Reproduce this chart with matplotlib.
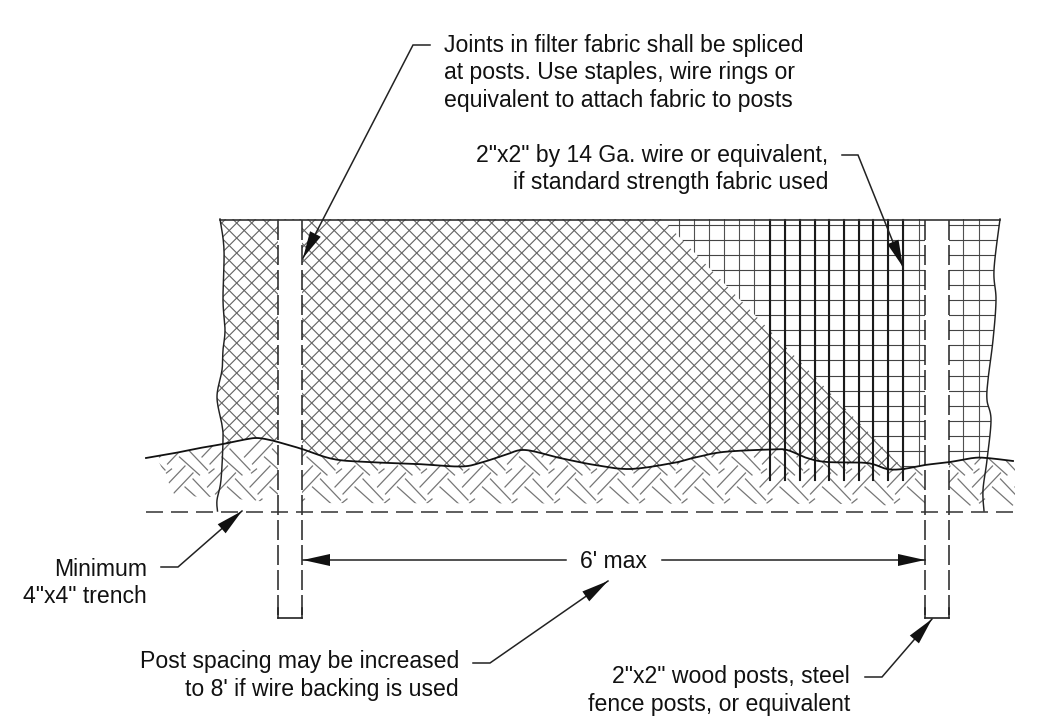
import matplotlib

matplotlib.use('Agg')
import matplotlib.pyplot as plt
import numpy as np
from matplotlib.patches import Polygon, Rectangle

plt.rcParams['font.family'] = ['Liberation Sans', 'DejaVu Sans']
plt.rcParams['lines.scale_dashes'] = False

PX = 0.72  # one pixel in points at dpi 100

ground_x = [146, 175, 200, 223, 245, 257, 270, 285, 302, 333, 367, 417, 460, 480, 505, 525, 560, 595, 630,
            673, 693, 723, 770, 787, 807, 827, 867, 887, 903, 925, 950, 973, 987, 1013]
ground_y = [458, 453, 448, 444, 439.5, 438, 440, 444, 449, 459, 462, 464, 466.5, 463, 455, 450, 458, 465,
            469, 463, 458, 452, 449.5, 450, 458, 462, 463, 469, 469, 465, 462, 458, 458, 461]
left_edge_x = [220, 224, 223, 225, 223, 222, 217, 222, 223, 221, 217, 217.5]
left_edge_y = [219, 250, 300, 330, 350, 370, 397, 425, 440, 480, 500, 511]
right_edge_x = [1000, 994, 996, 993, 988, 987, 991, 987, 983, 984]
right_edge_y = [219, 270, 300, 340, 380, 400, 420, 460, 490, 511]

top_y = 219.5
post_lefts = [278, 925]
post_width = 24
post_bottom = 618
trench_y = 511.5
fabric_split = [(662, 219), (903, 468)]

thin_wires = [679, 694, 709, 724, 739, 754, 919, 963, 979]
thick_wires = [770, 785, 800, 815, 829, 844, 859, 873, 888, 903]
thick_wire_bottom = 480
wire_rows = np.arange(225, 470, 15.05)
mesh_step = 15
mesh_c1 = 193.7
mesh_c2 = 639.7

labels = [
    ('Joints in filter fabric shall be spliced', 444, 52, 'left'),
    ('at posts. Use staples, wire rings or', 444, 79.5, 'left'),
    ('equivalent to attach fabric to posts', 444, 107, 'left'),
    ('2"x2" by 14 Ga. wire or equivalent,', 828, 162, 'right'),
    ('if standard strength fabric used', 828, 189.5, 'right'),
    ('Minimum', 147, 575.5, 'right'),
    ('4"x4" trench', 147, 603, 'right'),
    ("6' max", 613, 568, 'center'),
    ('Post spacing may be increased', 459, 668, 'right'),
    ("to 8' if wire backing is used", 459, 696, 'right'),
    ('2"x2" wood posts, steel', 850, 683, 'right'),
    ('fence posts, or equivalent', 850, 711, 'right'),
]
leaders = [
    [(430, 45), (413, 45), (303, 258)],
    [(842, 155), (858, 155), (903, 267)],
    [(161, 567), (178, 567), (242, 511)],
    [(473, 663), (490, 663), (608, 581)],
    [(865, 677), (882, 677), (932, 619)],
    [(566, 560), (303, 560)],
    [(662, 560), (925, 560)],
]

# herringbone strokes relative to a repeat anchor
soil_period = 42.5
soil_anchor = (335, 487)
soil_row_shift = (-5.5, -30)
soil_strokes = [((0, 0), (20, -21)), ((8, 7), (28, -14)), ((20, 0), (40, 18)), ((28, -8), (48, 13)), ((7, 16), (12, 12))]


def smooth(xs, ys, n=12):
    # catmull-rom through the points
    p = np.column_stack([xs, ys]).astype(float)
    p = np.vstack([p[0], p, p[-1]])
    out = []
    for i in range(1, len(p) - 2):
        for t in np.linspace(0, 1, n, endpoint=False):
            out.append(0.5 * (2 * p[i] + (p[i + 1] - p[i - 1]) * t
                              + (2 * p[i - 1] - 5 * p[i] + 4 * p[i + 1] - p[i + 2]) * t ** 2
                              + (3 * p[i] - p[i - 1] - 3 * p[i + 1] + p[i + 2]) * t ** 3))
    out.append(p[-1])
    return np.array(out)


def arrow_head(ax, tail, tip, length=27, half=6):
    tail, tip = np.array(tail, float), np.array(tip, float)
    d = (tip - tail) / np.hypot(*(tip - tail))
    n = np.array([-d[1], d[0]])
    base = tip - d * length
    ax.fill(*zip(tip, base + n * half, base - n * half), color='#111111', lw=0, zorder=8)


fig = plt.figure(figsize=(10.39, 7.16), dpi=100)
ax = fig.add_axes([0, 0, 1, 1])
ax.set_xlim(0, 1039)
ax.set_ylim(716, 0)
ax.axis('off')

ground = smooth(ground_x, ground_y)
left_edge = smooth(left_edge_x, left_edge_y)
right_edge = smooth(right_edge_x, right_edge_y)
ground_in = ground[(ground[:, 0] > 222) & (ground[:, 0] < 989)]

# clip regions
above_split = ground_in[ground_in[:, 0] <= fabric_split[1][0]]
below_split = ground_in[ground_in[:, 0] > fabric_split[1][0]]
hatch_clip = Polygon(np.vstack([left_edge[left_edge[:, 1] < 445], above_split,
                                [fabric_split[1], fabric_split[0]]]), transform=ax.transData)
grid_clip = Polygon(np.vstack([[fabric_split[0]], right_edge[right_edge[:, 1] < 458], below_split[::-1],
                               [fabric_split[1]]]), transform=ax.transData)
soil_clip = Polygon(np.vstack([ground[ground[:, 0] > 155],
                               [(1015, 462), (1015, 510), (900, 510), (880, 504), (280, 503), (215, 497),
                                (175, 496)]]), transform=ax.transData)

# diamond mesh
for k in range(-40, 60):
    c1 = mesh_c1 + k * mesh_step
    c2 = mesh_c2 + k * mesh_step
    for xs, ys in [([0, 1039], [-c1, 1039 - c1]), ([0, 1039], [c2, c2 - 1039])]:
        ln, = ax.plot(xs, ys, color='#626262', lw=0.8, zorder=2)
        ln.set_clip_path(hatch_clip)

# square wire grid
for x in thin_wires + thick_wires:
    ln, = ax.plot([x, x], [210, 480], color='#505050', lw=0.8, zorder=2)
    ln.set_clip_path(grid_clip)
for y in wire_rows:
    ln, = ax.plot([600, 1010], [y, y], color='#444444', lw=0.8, zorder=2)
    ln.set_clip_path(grid_clip)

# soil herringbone
for r in (-1, 0):
    for c in range(-6, 18):
        cx = soil_anchor[0] + c * soil_period - r * soil_row_shift[0]
        cy = soil_anchor[1] - r * soil_row_shift[1]
        for a, b in soil_strokes:
            ln, = ax.plot([cx + a[0], cx + b[0]], [cy + a[1], cy + b[1]], color='#767676', lw=0.9, zorder=1)
            ln.set_clip_path(soil_clip)

# posts
for x in post_lefts:
    ax.add_patch(Rectangle((x, top_y), post_width, post_bottom - top_y, fc='white', ec='none', zorder=3))
    for edge in (x, x + post_width):
        ax.plot([edge, edge], [top_y, post_bottom - 2], color='#222222', lw=1.1, zorder=4,
                dashes=(20 * PX, 5 * PX))
        ax.plot([edge, edge], [post_bottom - 10, post_bottom], color='#222222', lw=1.1, zorder=4)
    ax.plot([x, x + post_width], [post_bottom, post_bottom], color='#222222', lw=1.2, zorder=4)

# heavy wires run past the ground line
for x in thick_wires:
    ax.plot([x, x], [top_y, thick_wire_bottom], color='#1a1a1a', lw=1.5, zorder=5)

ax.plot([left_edge_x[0], right_edge_x[0]], [top_y, top_y], color='#333333', lw=1.2, zorder=6)
ax.plot(*left_edge.T, color='#222222', lw=1.05, zorder=6)
ax.plot(*right_edge.T, color='#222222', lw=1.05, zorder=6)
ax.plot(*ground.T, color='#111111', lw=1.3, zorder=7)
ax.plot([146, 1017], [trench_y, trench_y], color='#333333', lw=1.1, zorder=6, dashes=(17 * PX, 8 * PX))

for pts in leaders:
    ax.plot(*zip(*pts), color='#222222', lw=1.1, zorder=8, solid_joinstyle='miter')
    arrow_head(ax, pts[-2], pts[-1])

for s, x, y, ha in labels:
    ax.text(x, y, s, ha=ha, va='baseline', fontsize=16.6, color='#111111')

fig.savefig('out.png', dpi=100, facecolor='white')
